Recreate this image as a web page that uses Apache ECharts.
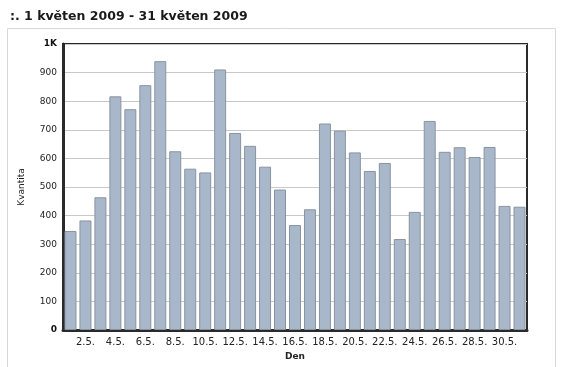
<!DOCTYPE html>
<html><head><meta charset="utf-8">
<script src="https://cdn.jsdelivr.net/npm/echarts@6/dist/echarts.min.js"></script>
<style>html,body{margin:0;padding:0;background:#fff;}#c{width:564px;height:367px;}</style>
</head><body><div id="c"></div>
<script>
const days = [];
for (let d = 1; d <= 31; d++) days.push(d + '.5.');
const values = [346, 383, 464, 817, 772, 856, 940, 625, 564, 551, 911, 689, 644, 571, 491, 367, 422, 722, 697, 621, 556, 584, 318, 413, 731, 623, 639, 605, 640, 434, 431];
const yTicks = [0, 100, 200, 300, 400, 500, 600, 700, 800, 900, 1000];
const titleText = ':. 1 květen 2009 - 31 květen 2009';

const chart = echarts.init(document.getElementById('c'), null, {renderer: 'canvas'});
chart.setOption({
  animation: false,
  backgroundColor: '#fff',
  title: {
    text: titleText, left: 5, top: 5,
    textStyle: {fontFamily: 'DejaVu Sans', fontSize: 12.5, fontWeight: 'bold', color: '#1a1a1a'}
  },
  graphic: [
    {type: 'rect', shape: {x: 7.5, y: 28.5, width: 548, height: 345}, style: {fill: '#fff', stroke: '#d8d8d8', lineWidth: 1}, z: -10}
  ],
  grid: {left: 63, right: 37, top: 44, bottom: 37, show: true, borderColor: '#2a2a2a', borderWidth: 2, backgroundColor: 'transparent'},
  xAxis: {
    type: 'category', data: days, name: 'Den', nameLocation: 'middle', nameGap: 22,
    nameTextStyle: {fontFamily: 'DejaVu Sans', fontSize: 9, fontWeight: 'bold', color: '#222'},
    axisLine: {lineStyle: {color: '#2a2a2a', width: 3}},
    axisTick: {show: false},
    axisLabel: {interval: (i) => i % 2 === 1, fontFamily: 'DejaVu Sans', fontSize: 10, color: '#222', margin: 7}
  },
  yAxis: {
    type: 'value', min: 0, max: 1000, interval: 100,
    name: 'Kvantita', nameLocation: 'middle', nameGap: 37,
    nameTextStyle: {fontFamily: 'DejaVu Sans', fontSize: 9, color: '#222'},
    axisLine: {show: true, lineStyle: {color: '#2a2a2a', width: 3}},
    axisTick: {show: false},
    splitLine: {lineStyle: {color: '#c8c8c8', width: 1}},
    axisLabel: {
      fontFamily: 'DejaVu Sans', fontSize: 9, color: '#222', margin: 6,
      formatter: (v) => v === 1000 ? '{b|1K}' : (v === 0 ? '{b|0}' : String(v)),
      rich: {b: {fontWeight: 'bold', fontFamily: 'DejaVu Sans', fontSize: 9, color: '#111'}}
    }
  },
  series: [{
    type: 'bar', data: values, barCategoryGap: '20%',
    itemStyle: {color: '#a8b8ca', borderColor: '#8893a0', borderWidth: 1}
  }]
});
</script></body></html>
